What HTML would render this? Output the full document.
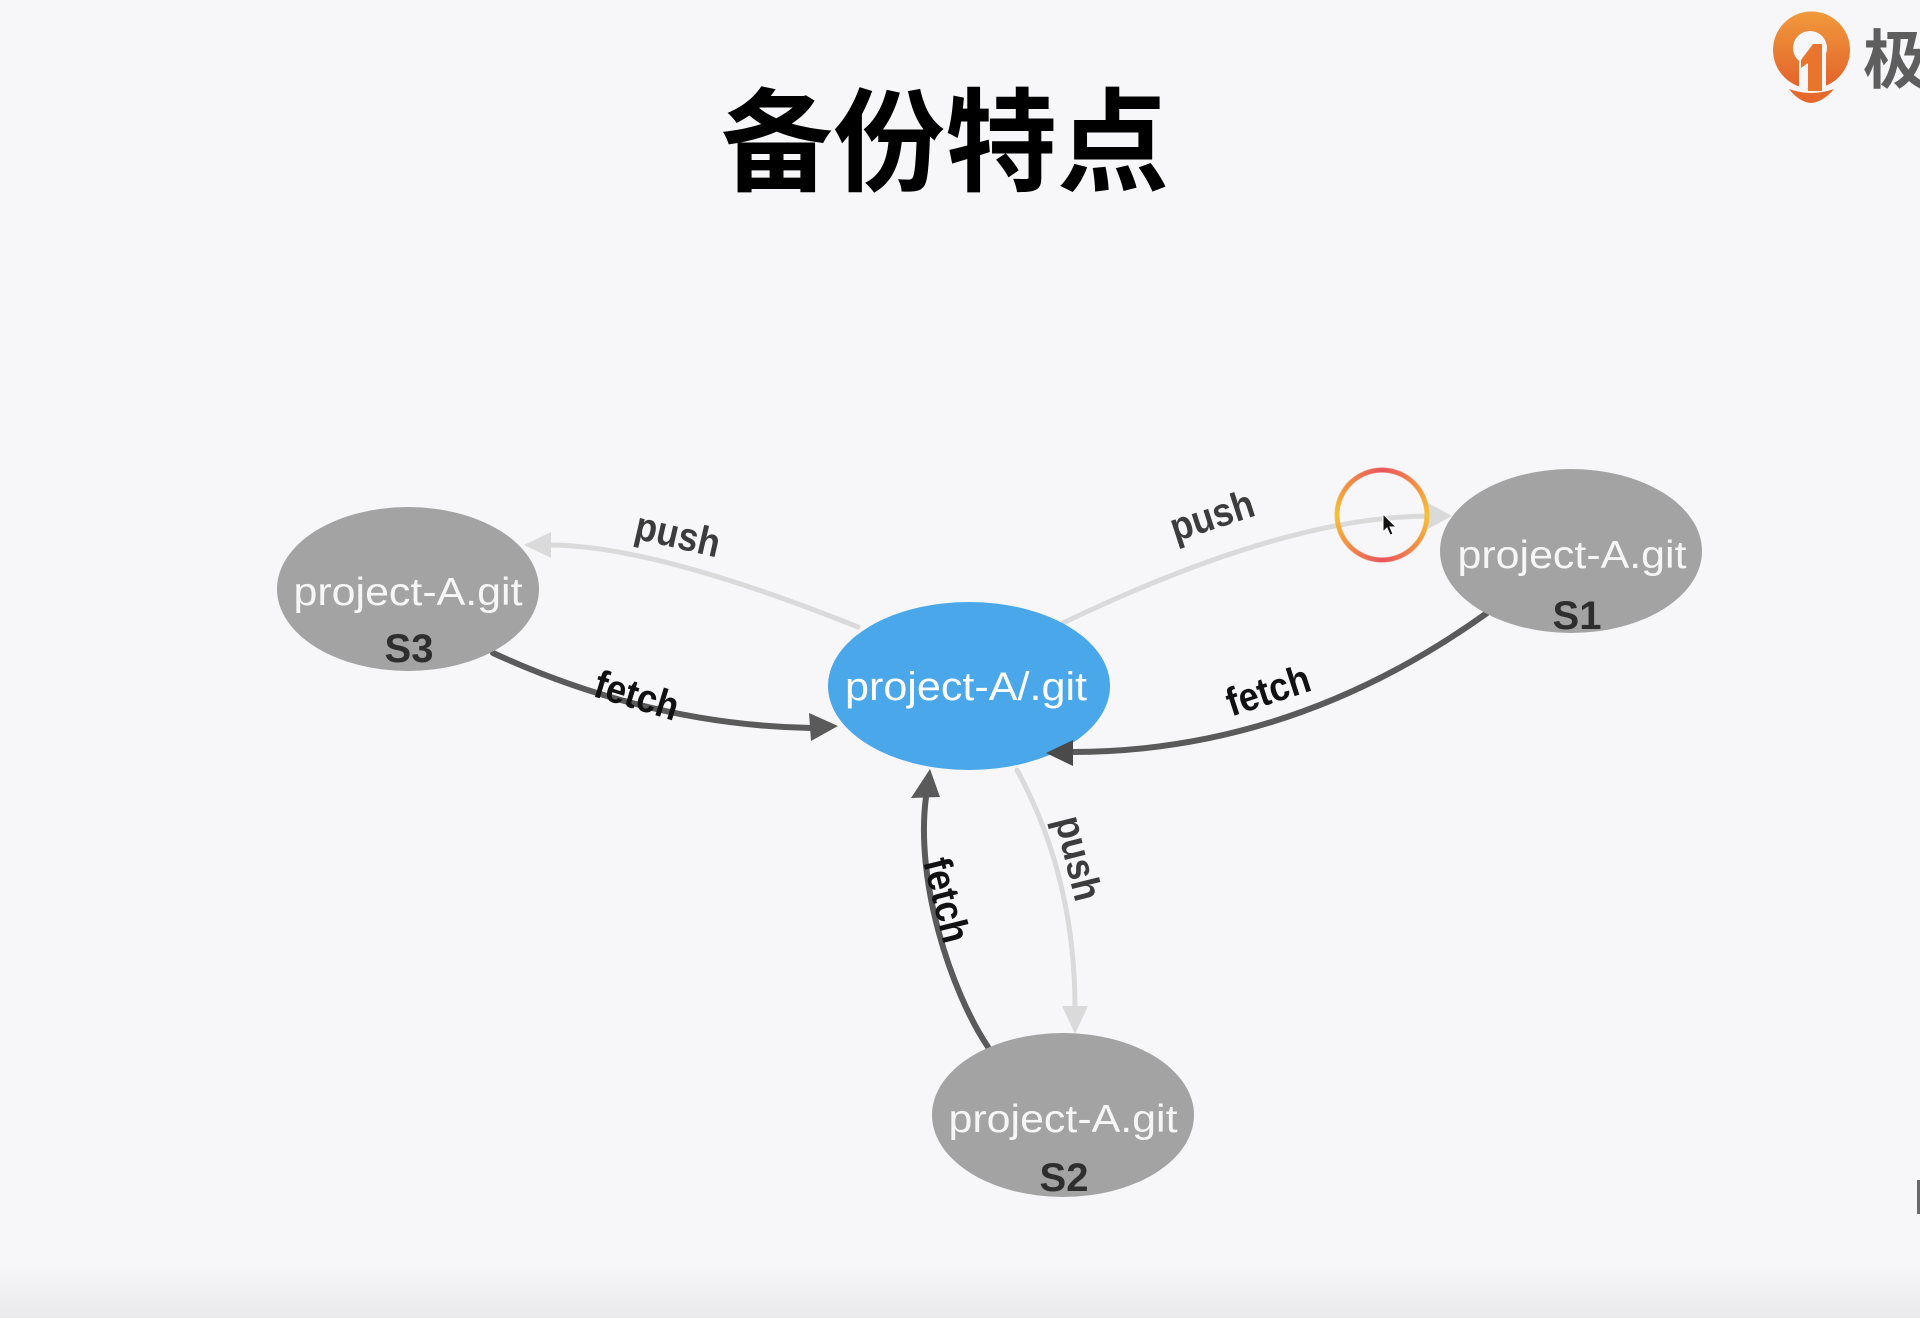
<!DOCTYPE html>
<html>
<head>
<meta charset="utf-8">
<style>
  html,body{margin:0;padding:0;}
  body{width:1920px;height:1318px;overflow:hidden;background:#f7f7f9;position:relative;}
  svg{position:absolute;left:0;top:0;}
  .ring{position:absolute;left:1334px;top:467px;width:96px;height:96px;border-radius:50%;
    background:conic-gradient(#e9545e 0deg,#f08a44 45deg,#f6c236 90deg,#f08a44 135deg,#e9545e 180deg,#f08a44 225deg,#f6c236 270deg,#f08a44 315deg,#e9545e 360deg);
    -webkit-mask:radial-gradient(circle,transparent 42px,#000 43px,#000 47px,transparent 48px);
    mask:radial-gradient(circle,transparent 42px,#000 43px,#000 47px,transparent 48px);
    filter:blur(0.8px);}
</style>
</head>
<body>
<svg width="1920" height="1318" viewBox="0 0 1920 1318" xmlns="http://www.w3.org/2000/svg">
  <defs>
    <linearGradient id="bot" x1="0" y1="0" x2="0" y2="1">
      <stop offset="0" stop-color="#f7f7f9"/>
      <stop offset="1" stop-color="#eaeaec"/>
    </linearGradient>
    <linearGradient id="og" x1="0" y1="0" x2="0" y2="1">
      <stop offset="0" stop-color="#f19a3c"/>
      <stop offset="1" stop-color="#e2622a"/>
    </linearGradient>
  </defs>

  <rect x="0" y="1262" width="1920" height="56" fill="url(#bot)"/>
  <rect x="1917" y="1180" width="3" height="34" fill="#6a6a6a"/>

  <!-- Title -->
  <text x="945" y="182" text-anchor="middle" font-family="'Liberation Sans','Noto Sans CJK SC',sans-serif" font-weight="700" font-size="112" fill="#000">备份特点</text>

  <!-- Logo -->
  <circle cx="1811.5" cy="50" r="38.5" fill="url(#og)"/>
  <circle cx="1810" cy="48" r="17" fill="#f7f7f9"/>
  <rect x="1799" y="48" width="27" height="40" fill="#f7f7f9"/>
  <polygon points="1813,44 1822,44 1822,91 1808,91 1808,63 1801,68 1801,60" fill="#e8742e"/>
  <path d="M1789,89 Q1811,97 1834,89 Q1823,102 1811,103 Q1799,102 1789,89 Z" fill="#e6682b"/>
  <text x="1863" y="83" font-family="'Liberation Sans','Noto Sans CJK SC',sans-serif" font-weight="700" font-size="64" fill="#5e5e5e">极客时间</text>

  <!-- Edges (lines) -->
  <g fill="none" stroke-linecap="round">
    <path d="M858,627 Q653,545 549,545" stroke="#dadada" stroke-width="5"/>
    <path d="M1063,623 Q1286,516 1430,516" stroke="#dadada" stroke-width="5"/>
    <path d="M1017,770 Q1075,877 1075,1008" stroke="#dadada" stroke-width="5"/>
    <path d="M493,653 Q650,725 811,728" stroke="#5a5a5a" stroke-width="6"/>
    <path d="M1487,613 Q1293,752 1072,752" stroke="#5a5a5a" stroke-width="6"/>
    <path d="M988,1047 C950,990 915,880 926,797" stroke="#5a5a5a" stroke-width="6"/>
  </g>

  <!-- Nodes -->
  <ellipse cx="408" cy="589" rx="131" ry="82" fill="#a3a3a3"/>
  <ellipse cx="1571" cy="551" rx="131" ry="82" fill="#a3a3a3"/>
  <ellipse cx="1063" cy="1115" rx="131" ry="82" fill="#a3a3a3"/>
  <ellipse cx="969" cy="686" rx="141" ry="84" fill="#4aa7ea"/>

  <!-- Arrowheads -->
  <polygon points="524,545 551,532 551,558" fill="#dadada"/>
  <polygon points="1452,516 1428,503 1428,529" fill="#dadada"/>
  <polygon points="1075,1034 1062,1006 1088,1006" fill="#dadada"/>
  <polygon points="838,726 809,713 811,741" fill="#5a5a5a"/>
  <polygon points="1046,753 1073,740 1073,766" fill="#4a4a4a"/>
  <polygon points="930,769 911,798 940,797" fill="#5a5a5a"/>

  <!-- Node text -->
  <g font-family="'Liberation Sans',Arial,sans-serif" text-anchor="middle">
    <text x="408" y="605" font-size="39" fill="#f6f6f6" textLength="229" lengthAdjust="spacingAndGlyphs">project-A.git</text>
    <text x="409" y="662" font-size="40" font-weight="700" fill="#2e2e2e">S3</text>
    <text x="1572" y="568" font-size="39" fill="#f6f6f6" textLength="229" lengthAdjust="spacingAndGlyphs">project-A.git</text>
    <text x="1577" y="629" font-size="40" font-weight="700" fill="#2e2e2e">S1</text>
    <text x="1063" y="1132" font-size="39" fill="#f6f6f6" textLength="229" lengthAdjust="spacingAndGlyphs">project-A.git</text>
    <text x="1064" y="1191" font-size="40" font-weight="700" fill="#2e2e2e">S2</text>
    <text x="966" y="700" font-size="40" fill="#ffffff" textLength="242" lengthAdjust="spacingAndGlyphs">project-A/.git</text>
  </g>

  <!-- Edge labels -->
  <g font-family="'Liberation Sans',Arial,sans-serif" font-size="40" font-weight="700" text-anchor="middle">
    <text transform="translate(677,538) rotate(13)" y="10" fill="#3c3c3c" textLength="86" lengthAdjust="spacingAndGlyphs">push</text>
    <text transform="translate(637,695) rotate(17)" y="14" fill="#111" textLength="86" lengthAdjust="spacingAndGlyphs">fetch</text>
    <text transform="translate(1213,519) rotate(-18)" y="10" fill="#3c3c3c" textLength="86" lengthAdjust="spacingAndGlyphs">push</text>
    <text transform="translate(1268,690) rotate(-18)" y="14" fill="#111" textLength="86" lengthAdjust="spacingAndGlyphs">fetch</text>
    <text transform="translate(1075,859) rotate(76)" y="10" fill="#3c3c3c" textLength="86" lengthAdjust="spacingAndGlyphs">push</text>
    <text transform="translate(947,900) rotate(76)" y="14" fill="#111" textLength="86" lengthAdjust="spacingAndGlyphs">fetch</text>
  </g>

  <!-- Cursor -->
  <polygon points="1383,514 1383,532 1387,528 1390,535 1393,534 1390,527 1396,527" fill="#111" stroke="#fff" stroke-width="1"/>
</svg>
<div class="ring"></div>
</body>
</html>
